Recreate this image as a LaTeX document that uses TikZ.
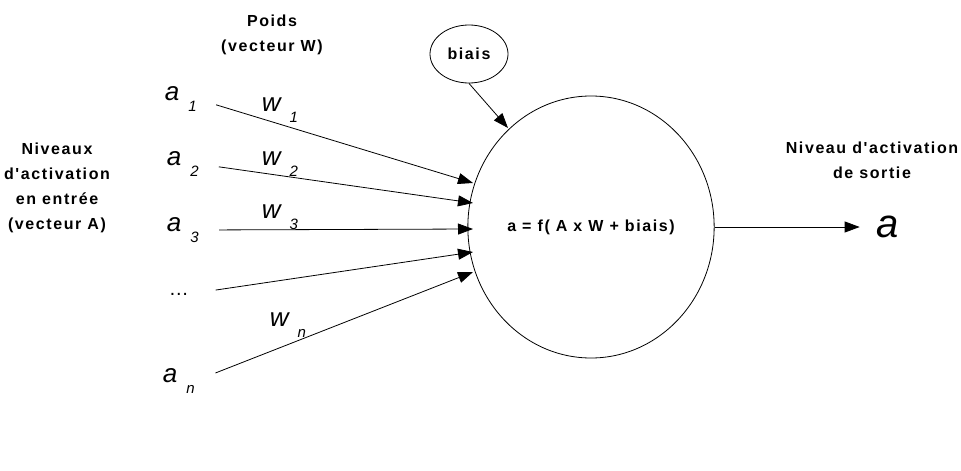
\documentclass[tikz,border=0pt]{standalone}
\usepackage{fontspec}
\setmainfont{Liberation Sans}
\newfontfamily\spacedsans[LetterSpace=10]{Liberation Sans}
\usetikzlibrary{arrows.meta,shapes.geometric}

% variable with a lowered index, as in the scan
\newcommand{\subvar}[2]{{\fontsize{26}{26}\selectfont\itshape #1}\hspace{9pt}\raisebox{-11pt}{\fontsize{15}{15}\selectfont\itshape #2}}

\begin{document}
\begin{tikzpicture}[x=1pt, y=-1pt,
    lbl/.style={font=\spacedsans\bfseries\fontsize{16}{25}\selectfont, align=center},
    var/.style={inner sep=0pt},
    feed/.style={-{Triangle[length=15pt,width=11pt]}, line width=0.8pt, shorten <=20pt}]
    \useasboundingbox (0,0) rectangle (961,471);

    % Define the neuron and its bias
    \node[draw, ellipse, line width=0.8pt, minimum width=240pt, minimum height=262pt, lbl] (neuron) at (591,227) {a = f( A x W + biais)};
    \node[draw, ellipse, line width=0.8pt, minimum width=78pt, minimum height=58pt, lbl] (biais) at (469,54) {biais};

    % Define the inputs and the weights
    \node[var, anchor=east] (a1) at (197,99) {\subvar{a}{1}};
    \node[var, anchor=east] (a2) at (199,164) {\subvar{a}{2}};
    \node[var, anchor=east] (a3) at (199,230) {\subvar{a}{3}};
    \node[var, anchor=east] (adots) at (189,294) {\fontsize{20}{20}\selectfont …};
    \node[var, anchor=east] (an) at (195,381) {\subvar{a}{n}};

    \node[var] (w1) at (280,110) {\subvar{w}{1}};
    \node[var] (w2) at (280,164) {\subvar{w}{2}};
    \node[var] (w3) at (280,217) {\subvar{w}{3}};
    \node[var] (wn) at (288,325) {\subvar{w}{n}};

    % Define the output
    \node[var] (out) at (888,227) {\fontsize{40}{40}\selectfont\itshape a};

    % Free ends of the arrows on the neuron
    \coordinate[] (t1) at (473,183);
    \coordinate[] (t2) at (473,203);
    \coordinate[] (t3) at (473,229);
    \coordinate[] (t4) at (473,252);
    \coordinate[] (t5) at (473,272);
    \coordinate[] (tb) at (508,128);

    % Draw the connections
    \draw[feed] (a1.east) -- (t1);
    \draw[feed] (a2.east) -- (t2);
    \draw[feed] (a3.east) -- (t3);
    \draw[feed, shorten <=27pt] (adots.east) -- (t4);
    \draw[feed, shorten <=22pt] (an.east) -- (t5);
    \draw[feed, shorten <=0pt] (biais.south) -- (tb);
    \draw[feed, shorten <=0pt, shorten >=17pt] (neuron.east) -- (out.west);

    % Draw the captions
    \node[lbl] (poids) at (272,35) {Poids\\(vecteur W)};
    \node[lbl] (niveaux) at (57,188) {Niveaux\\d'activation\\en entrée\\(vecteur A)};
    \node[lbl] (sortie) at (872,160) {Niveau d'activation\\de sortie};
\end{tikzpicture}
\end{document}
